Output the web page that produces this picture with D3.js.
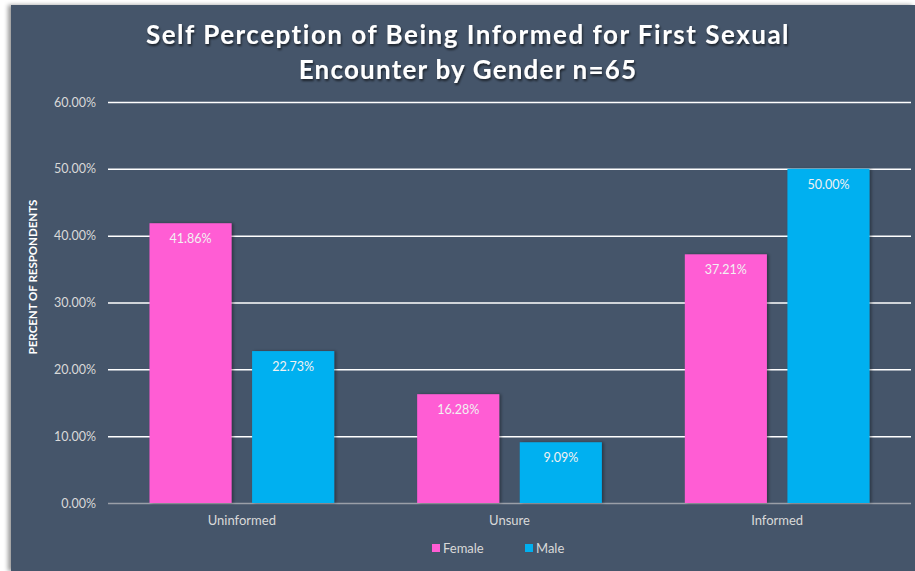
<!DOCTYPE html>
<html><head><meta charset="utf-8">
<script src="https://cdn.jsdelivr.net/npm/d3@7"></script>
<style>body{margin:0;background:#fff;}svg{display:block;}</style>
</head><body>
<svg id="c" width="915" height="571"></svg>
<script>
const categories = ["Uninformed", "Unsure", "Informed"];
const seriesNames = ["Female", "Male"];
const female = [41.86, 16.28, 37.21];
const male = [22.73, 9.09, 50.00];
const yTicks = [0, 10, 20, 30, 40, 50, 60];
const colors = ["#FF5DD4", "#00B0F0"];

const svg = d3.select("#c");
const defs = svg.append("defs");
const f = defs.append("filter").attr("id","sh").attr("x","-20%").attr("y","-20%").attr("width","140%").attr("height","140%");
f.append("feDropShadow").attr("dx",2).attr("dy",0).attr("stdDeviation",1.5).attr("flood-color","#000").attr("flood-opacity",0.35);
const pf = defs.append("filter").attr("id","psh").attr("x","-5%").attr("y","-5%").attr("width","110%").attr("height","110%");
pf.append("feDropShadow").attr("dx",-3).attr("dy",0).attr("stdDeviation",2).attr("flood-color","#000").attr("flood-opacity",0.4);
const tf = defs.append("filter").attr("id","tsh");
tf.append("feDropShadow").attr("dx",1).attr("dy",2).attr("stdDeviation",1.2).attr("flood-color","#000").attr("flood-opacity",0.6);

svg.append("rect").attr("x",11).attr("y",5).attr("width",904).attr("height",566).attr("fill","#44546A").attr("filter","url(#psh)");

const m = {left:108, right:911, top:102, bottom:503};
const x0 = d3.scaleBand().domain(categories).range([m.left, m.right]).paddingInner(0.31).paddingOuter(0.155);
const x1 = d3.scaleBand().domain(seriesNames).range([0, x0.bandwidth()]).paddingInner(0.2);
const y = d3.scaleLinear().domain([0, 60]).range([m.bottom, m.top]);

// grid
const yAxis = d3.axisLeft(y).tickValues(yTicks).tickSize(-(m.right - m.left)).tickFormat(d => d.toFixed(2) + "%").tickPadding(12);
const ga = svg.append("g").attr("transform", `translate(${m.left},0)`).call(yAxis);
ga.select(".domain").remove();
ga.selectAll(".tick line").attr("stroke", d => d === 0 ? "#9a9fa8" : "#ffffff").attr("stroke-width", 1.5);
ga.selectAll(".tick text").attr("fill", "#d9d9d9").attr("font-family", "Lato, 'Open Sans', sans-serif").attr("font-size", 12.5);

const data = categories.map((c, i) => ({cat: c, vals: [female[i], male[i]]}));
const groups = svg.append("g").selectAll("g").data(data).join("g")
  .attr("transform", d => `translate(${x0(d.cat)},0)`);
groups.selectAll("rect").data(d => d.vals.map((v, j) => ({v, s: seriesNames[j], j})))
  .join("rect")
  .attr("x", d => x1(d.s)).attr("width", x1.bandwidth())
  .attr("y", d => y(d.v)).attr("height", d => y(0) - y(d.v))
  .attr("fill", d => colors[d.j]).attr("filter", "url(#sh)");
groups.selectAll("text").data(d => d.vals.map((v, j) => ({v, s: seriesNames[j], j})))
  .join("text")
  .attr("x", d => x1(d.s) + x1.bandwidth()/2).attr("y", d => y(d.v) + 20)
  .attr("text-anchor", "middle").attr("fill", "#f2f2f2")
  .attr("font-family", "Lato, 'Open Sans', sans-serif").attr("font-size", 12.5)
  .text(d => d.v.toFixed(2) + "%");

// category labels
svg.append("g").selectAll("text").data(categories).join("text")
  .attr("x", d => x0(d) + x0.bandwidth()/2).attr("y", 525)
  .attr("text-anchor", "middle").attr("fill", "#d9d9d9")
  .attr("font-family", "Lato, 'Open Sans', sans-serif").attr("font-size", 13)
  .text(d => d);

// y title
svg.append("text").attr("transform", "translate(37,277) rotate(-90)")
  .attr("text-anchor", "middle").attr("fill", "#ffffff").attr("font-weight", "bold")
  .attr("font-family", "Lato, 'Open Sans', sans-serif").attr("font-size", 11.5)
  .text("PERCENT OF RESPONDENTS");

// title
const title = svg.append("text").attr("text-anchor", "middle").attr("fill", "#ffffff")
  .attr("font-family", "Lato, 'Open Sans', sans-serif").attr("font-weight", "bold")
  .attr("font-size", 26).attr("letter-spacing", 1.5).attr("filter", "url(#tsh)");
title.append("tspan").attr("x", 468).attr("y", 44).text("Self Perception of Being Informed for First Sexual");
title.append("tspan").attr("x", 468).attr("y", 79).attr("letter-spacing", 1.2).text("Encounter by Gender n=65");

// legend
const leg = svg.append("g").selectAll("g").data(seriesNames).join("g")
  .attr("transform", (d, i) => `translate(${432 + i*93},544)`);
leg.append("rect").attr("width", 8).attr("height", 8).attr("fill", (d, i) => colors[i]);
leg.append("text").attr("x", 11).attr("y", 9).attr("fill", "#d9d9d9")
  .attr("font-family", "Lato, 'Open Sans', sans-serif").attr("font-size", 13).text(d => d);
</script>
</body></html>
